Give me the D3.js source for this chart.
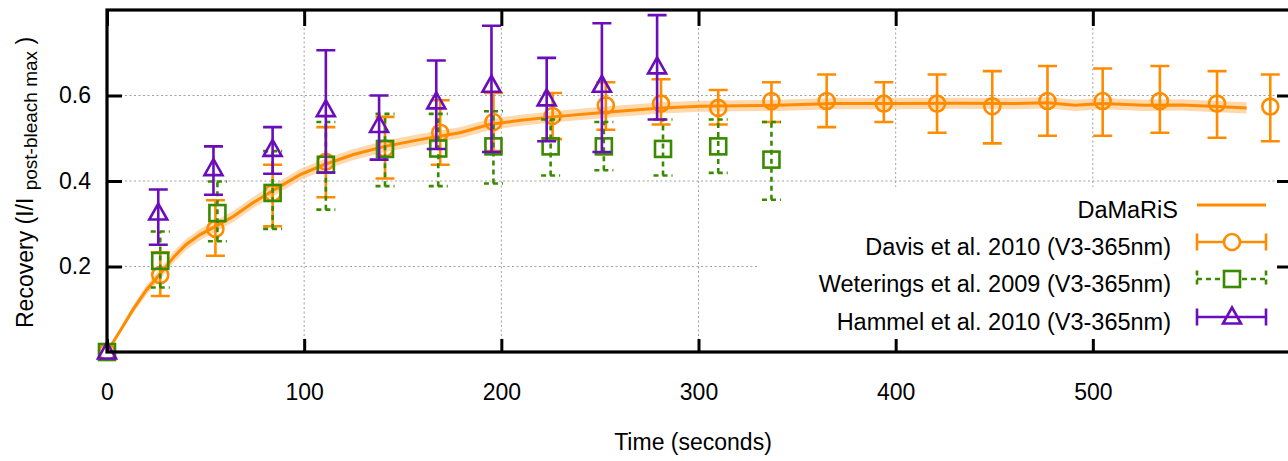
<!DOCTYPE html>
<html>
<head>
<meta charset="utf-8">
<script src="https://cdn.jsdelivr.net/npm/d3@7"></script>
<style>
body { margin: 0; background: #fff; }
text { font-family: "Liberation Sans", Arial, Helvetica, sans-serif; fill: #000; }
</style>
</head>
<body>
<script>
var xTicks = [0, 100, 200, 300, 400, 500];
var yTicks = [0.2, 0.4, 0.6];

// DaMaRiS simulation curve and its band
var damarisTime  = [0, 7, 13, 20, 27, 34, 40, 47, 55, 64, 74, 84, 98, 110, 125, 141, 160, 179, 194, 210, 226, 253, 281, 301, 320, 340, 369, 400, 430, 460, 477, 491, 505, 526, 545, 563, 578];
var damarisValue = [0, .052, .098, .145, .183, .223, .251, .274, .294, .317, .349, .377, .415, .438, .462, .481, .498, .513, .532, .542, .550, .561, .571, .575, .576, .577, .581, .581, .582, .581, .583, .577, .581, .577, .578, .574, .571];
var damarisLow   = [0, .046, .089, .134, .171, .210, .238, .261, .281, .304, .336, .364, .402, .425, .449, .468, .485, .500, .519, .529, .537, .548, .558, .562, .563, .564, .568, .568, .569, .568, .570, .564, .568, .564, .565, .561, .558];
var damarisHigh  = [0, .058, .107, .156, .195, .236, .264, .287, .307, .330, .362, .390, .428, .451, .475, .494, .511, .526, .545, .555, .563, .574, .584, .588, .589, .590, .594, .594, .595, .594, .596, .590, .594, .590, .591, .587, .584];

// Davis et al. 2010
var davisTime  = [0, 27, 55, 84, 111, 141, 169, 196, 226, 253, 281, 310, 337, 365, 394, 421, 449, 477, 505, 534, 563, 590];
var davisValue = [0, .180, .288, .372, .445, .476, .513, .538, .552, .577, .581, .571, .587, .587, .581, .581, .575, .587, .587, .587, .581, .574];
var davisLow   = [0, .131, .225, .294, .362, .406, .438, .470, .498, .520, .532, .532, .538, .526, .538, .513, .488, .506, .506, .513, .501, .493];
var davisHigh  = [0, .233, .355, .438, .526, .550, .589, .606, .606, .631, .638, .613, .631, .649, .631, .649, .657, .669, .663, .669, .657, .649];

// Weterings et al. 2009
var weteringsTime  = [0, 27, 56, 84, 111, 141, 168, 196, 225, 252, 282, 310, 337];
var weteringsValue = [0, .213, .325, .372, .438, .475, .476, .481, .481, .481, .475, .481, .450];
var weteringsLow   = [0, .151, .259, .288, .333, .388, .388, .394, .413, .425, .413, .419, .356];
var weteringsHigh  = [0, .282, .399, .470, .538, .557, .557, .563, .544, .538, .544, .544, .538];

// Hammel et al. 2010
var hammelTime  = [0, 26, 54, 84, 111, 138, 167, 195, 223, 251, 279];
var hammelValue = [0, .325, .429, .474, .567, .530, .585, .624, .592, .624, .667];
var hammelLow   = [0, .251, .368, .417, .420, .450, .475, .468, .493, .468, .544];
var hammelHigh  = [0, .380, .481, .526, .706, .600, .682, .763, .688, .769, .788];

var legendLabels = ["DaMaRiS", "Davis et al. 2010 (V3-365nm)", "Weterings et al. 2009 (V3-365nm)", "Hammel et al. 2010 (V3-365nm)"];

var orange = "#ff8c00", green = "#3a8a00", purple = "#6a0dbb";

var margin = {left: 107, top: 10};
var plotW = 1183, plotH = 342;

var x = d3.scaleLinear().domain([0, 600]).range([0, plotW]);
var y = d3.scaleLinear().domain([0, 0.8]).range([plotH, 0]);

var svg = d3.select("body").append("svg")
    .attr("width", 1288)
    .attr("height", 461);
var g = svg.append("g").attr("transform", "translate(" + margin.left + "," + margin.top + ")");

// grid
g.selectAll(".vgrid").data(xTicks.slice(1)).enter().append("line")
    .attr("x1", function(d) { return x(d); }).attr("x2", function(d) { return x(d); })
    .attr("y1", 0).attr("y2", plotH)
    .attr("stroke", "#a0a0a0").attr("stroke-width", 1).attr("stroke-dasharray", "2,2.5");
g.selectAll(".hgrid").data(yTicks).enter().append("line")
    .attr("x1", 0).attr("x2", plotW)
    .attr("y1", function(d) { return y(d); }).attr("y2", function(d) { return y(d); })
    .attr("stroke", "#a0a0a0").attr("stroke-width", 1).attr("stroke-dasharray", "2,2.5");

// legend background hides the grid behind it
var legendX = 650, legendY = 177;
g.append("rect").attr("x", legendX).attr("y", legendY).attr("width", 560).attr("height", 162).attr("fill", "#fff");

// DaMaRiS band + line
var damaris = damarisTime.map(function(t, i) { return {t: t, v: damarisValue[i], lo: damarisLow[i], hi: damarisHigh[i]}; });
g.append("path")
    .attr("d", d3.area().x(function(d) { return x(d.t); }).y0(function(d) { return y(d.lo); }).y1(function(d) { return y(d.hi); })(damaris))
    .attr("fill", "#ffc88a").attr("opacity", 0.7);
g.append("path")
    .attr("d", d3.line().x(function(d) { return x(d.t); }).y(function(d) { return y(d.v); })(damaris))
    .attr("fill", "none").attr("stroke", orange).attr("stroke-width", 3);

function rows(ts, vs, ls, hs) {
    return ts.map(function(t, i) { return {t: t, v: vs[i], lo: ls[i], hi: hs[i]}; });
}

function marker(sel, kind, color) {
    var m;
    if (kind == "circle") {
        m = sel.append("circle").attr("r", 8);
    } else if (kind == "square") {
        m = sel.append("rect").attr("x", -8).attr("y", -8).attr("width", 16).attr("height", 16);
    } else {
        m = sel.append("path").attr("d", "M0,-9.5L9,6.5L-9,6.5Z");
    }
    m.attr("fill", "none").attr("stroke", color).attr("stroke-width", 2.6);
}

function drawSeries(data, color, kind, dash) {
    var cap = 9.5;
    g.append("g").selectAll("path").data(data.filter(function(d) { return d.lo !== d.hi; })).enter().append("path")
        .attr("d", function(d) {
            var px = x(d.t), a = y(d.lo), b = y(d.hi);
            return "M" + px + "," + a + "L" + px + "," + b +
                   "M" + (px - cap) + "," + a + "h" + (2 * cap) +
                   "M" + (px - cap) + "," + b + "h" + (2 * cap);
        })
        .attr("fill", "none").attr("stroke", color).attr("stroke-width", 2.6)
        .attr("stroke-dasharray", dash);
    g.append("g").selectAll("g").data(data).enter().append("g")
        .attr("transform", function(d) { return "translate(" + x(d.t) + "," + y(d.v) + ")"; })
        .each(function() { marker(d3.select(this), kind, color); });
}

drawSeries(rows(davisTime, davisValue, davisLow, davisHigh), orange, "circle", null);
drawSeries(rows(weteringsTime, weteringsValue, weteringsLow, weteringsHigh), green, "square", "5,4");
drawSeries(rows(hammelTime, hammelValue, hammelLow, hammelHigh), purple, "triangle", null);

// legend
var legendRowY = [195, 232, 269, 307];
var sx0 = 1090, sx1 = 1159, sxm = 1125;
legendLabels.forEach(function(label, i) {
    var ry = legendRowY[i];
    g.append("text").attr("x", i == 0 ? 1071 : 1064).attr("y", ry + 12.5)
        .attr("text-anchor", "end").attr("font-size", "23.5px").text(label);
    var color = i == 2 ? green : (i == 0 || i == 1 ? orange : purple);
    var dash = i == 2 ? "5,4" : null;
    var path = "M" + sx0 + "," + ry + "H" + sx1;
    if (i > 0) path += "M" + sx0 + "," + (ry - 8.5) + "v17M" + sx1 + "," + (ry - 8.5) + "v17";
    g.append("path").attr("d", path).attr("fill", "none").attr("stroke", color)
        .attr("stroke-width", i == 0 ? 3 : 2.6).attr("stroke-dasharray", dash);
    if (i > 0) {
        var m = g.append("g").attr("transform", "translate(" + sxm + "," + ry + ")");
        if (i < 3) m.append("rect").attr("x", -7).attr("y", -7).attr("width", 14).attr("height", 14).attr("fill", "#fff");
        marker(m, ["", "circle", "square", "triangle"][i], color);
    }
});

// axes
var xAxis = d3.axisBottom(x).tickValues(xTicks).tickSizeInner(-13).tickSizeOuter(0).tickPadding(32);
var xTop = d3.axisTop(x).tickValues(xTicks).tickSizeInner(-16).tickSizeOuter(0).tickFormat("");
var yAxis = d3.axisLeft(y).tickValues(yTicks).tickSizeInner(-15).tickSizeOuter(0).tickPadding(16).tickFormat(d3.format(".1f"));
var yRight = d3.axisRight(y).tickValues(yTicks).tickSizeInner(-13).tickSizeOuter(0).tickFormat("");

[g.append("g").attr("transform", "translate(0," + plotH + ")").call(xAxis),
 g.append("g").call(xTop),
 g.append("g").call(yAxis),
 g.append("g").attr("transform", "translate(" + plotW + ",0)").call(yRight)].forEach(function(ax) {
    ax.select(".domain").remove();
    ax.selectAll(".tick line").attr("stroke", "#000").attr("stroke-width", 3);
    ax.selectAll(".tick text").attr("font-size", "23px").attr("fill", "#000")
        .style("font-family", "'Liberation Sans', Arial, Helvetica, sans-serif");
});

g.append("rect").attr("x", 0).attr("y", 0).attr("width", plotW).attr("height", plotH)
    .attr("fill", "none").attr("stroke", "#000").attr("stroke-width", 3.2);

// axis titles
svg.append("text").attr("x", 693).attr("y", 450).attr("text-anchor", "middle")
    .attr("font-size", "23px").text("Time (seconds)");

var yl = svg.append("text").attr("transform", "translate(33,328) rotate(-90)").attr("font-size", "23px");
yl.append("tspan").text("Recovery (I/I");
yl.append("tspan").attr("font-size", "19px").attr("dy", 4).attr("dx", 2).text(" post-bleach max");
yl.append("tspan").attr("dy", -4).text("  )");
</script>
</body>
</html>
